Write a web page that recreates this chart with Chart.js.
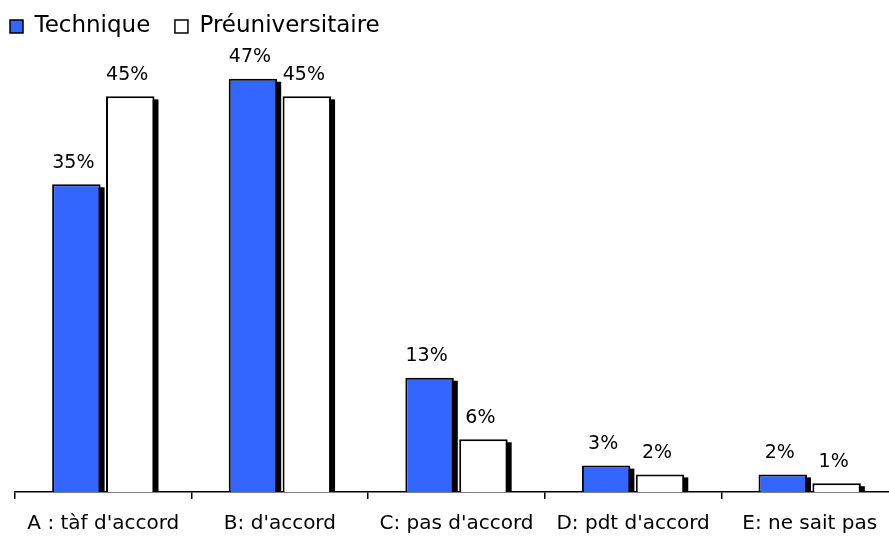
<!DOCTYPE html>
<html>
<head>
<meta charset="utf-8">
<script src="https://cdn.jsdelivr.net/npm/chart.js@4"></script>
<style>
  html, body { margin: 0; padding: 0; background: #fff; overflow: hidden; }
  #wrap { width: 898px; height: 536px; }
</style>
</head>
<body>
<div id="wrap"><canvas id="bars" width="898" height="536"></canvas></div>
<script>
const categories = ["A : tàf d'accord", "B: d'accord", "C: pas d'accord", "D: pdt d'accord", "E: ne sait pas"];
const technique = [35, 47, 13, 3, 2];
const preuniversitaire = [45, 45, 6, 2, 1];

const FONT = "'DejaVu Sans', sans-serif";

// black drop shadow to the right of each bar, like the old office charts
const shadowPlugin = {
  id: 'shadow',
  beforeDatasetsDraw(chart) {
    const ctx = chart.ctx;
    ctx.save();
    ctx.fillStyle = '#000';
    chart.data.datasets.forEach((ds, i) => {
      chart.getDatasetMeta(i).data.forEach(bar => {
        const p = bar.getProps(['x', 'y', 'base', 'width'], true);
        ctx.fillRect(p.x - p.width / 2 + 4, p.y + 3, p.width, p.base - p.y - 3);
      });
    });
    ctx.restore();
  }
};

const valueLabels = {
  id: 'valueLabels',
  afterDatasetsDraw(chart) {
    const ctx = chart.ctx;
    ctx.save();
    ctx.font = '19px ' + FONT;
    ctx.fillStyle = '#000';
    ctx.textAlign = 'center';
    ctx.textBaseline = 'bottom';
    chart.data.datasets.forEach((ds, i) => {
      chart.getDatasetMeta(i).data.forEach((bar, j) => {
        ctx.fillText(ds.data[j] + '%', bar.x - 3, bar.y - 12);
      });
    });
    ctx.restore();
  }
};

new Chart(document.getElementById('bars'), {
  type: 'bar',
  data: {
    labels: categories,
    datasets: [{
      label: 'Technique',
      data: technique,
      backgroundColor: '#3366FF',
      borderColor: '#000',
      borderWidth: 2
    }, {
      label: 'Préuniversitaire',
      data: preuniversitaire,
      backgroundColor: '#FFFFFF',
      borderColor: '#000',
      borderWidth: 2
    }]
  },
  options: {
    responsive: false,
    animation: false,
    categoryPercentage: 0.61,
    barPercentage: 0.9,
    layout: { padding: { top: 5, left: 0, right: 0, bottom: 0 } },
    plugins: {
      legend: {
        align: 'start',
        labels: {
          font: { family: FONT, size: 23 },
          color: '#000',
          boxWidth: 13,
          boxHeight: 13,
          padding: 10,
          generateLabels(chart) {
            const items = Chart.defaults.plugins.legend.labels.generateLabels(chart);
            items.forEach((it, i) => {
              it.lineWidth = 1.5;
              if (i === 0) it.text = it.text + '  ';
            });
            return items;
          }
        }
      },
      tooltip: { enabled: false }
    },
    scales: {
      x: {
        afterFit(s) { s.height = 44; },
        border: { display: true, color: '#000', width: 1.5 },
        grid: { display: true, drawOnChartArea: false, drawTicks: true, tickLength: 7, color: '#000', lineWidth: 1.5 },
        ticks: { color: '#000', font: { family: FONT, size: 20 }, padding: 13, maxRotation: 0, autoSkip: false }
      },
      y: {
        min: 0,
        max: 50.5,
        afterFit(s) { s.width = 15; },
        border: { display: false },
        grid: { display: false },
        ticks: { display: false }
      }
    }
  },
  plugins: [shadowPlugin, valueLabels]
});
</script>
</body>
</html>
